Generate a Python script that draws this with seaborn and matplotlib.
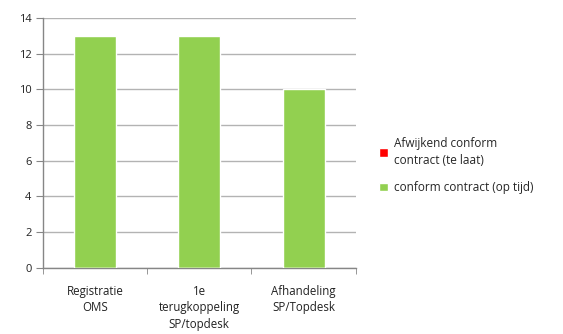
import numpy as np
import pandas as pd
import matplotlib
matplotlib.use("Agg")
import matplotlib.pyplot as plt
import seaborn as sns

categories = ["Registratie\nOMS", "1e\nterugkoppeling\nSP/topdesk", "Afhandeling\nSP/Topdesk"]
op_tijd = [13, 13, 10]
te_laat = [0, 0, 0]
label_laat = "Afwijkend conform\ncontract (te laat)"
label_tijd = "conform contract (op tijd)"

green = "#92d050"
red = "#ff0000"
grid = "#b3b3b3"

sns.set_style("white")
plt.rcParams['font.family'] = ['Open Sans', 'DejaVu Sans']

df = pd.DataFrame({"cat": categories, "tijd": op_tijd, "laat": te_laat})

fig = plt.figure(figsize=(5.63, 3.34), dpi=100)
ax = fig.add_axes([0.076, 0.198, 0.556, 0.748])

# red stacked on top of green (all zero here)
sns.barplot(data=df, x="cat", y="tijd", color=green, width=0.4, saturation=1,
            label=label_tijd, ax=ax, zorder=3)
sns.barplot(data=df, x="cat", y="laat", color=red, width=0.4, saturation=1,
            label=label_laat, ax=ax, zorder=3)

ax.set_ylim(0, 14)
ax.set_yticks(np.arange(0, 15, 2))
ax.set_xlim(-0.5, len(categories) - 0.5)
ax.set_xlabel("")
ax.set_ylabel("")
ax.yaxis.grid(True, color=grid, linewidth=1, zorder=0)
ax.set_axisbelow(True)

for s in ["top", "right"]:
    ax.spines[s].set_visible(False)
for s in ["left", "bottom"]:
    ax.spines[s].set_color("#868686")
    ax.spines[s].set_linewidth(1)

ax.tick_params(axis="y", which="major", length=5, color="#868686", direction="out",
               left=True, labelsize=8, labelcolor="#222222", pad=3)
ax.tick_params(axis="x", which="major", length=0, labelsize=8.3, labelcolor="#222222", pad=12)
for t in ax.get_xticklabels():
    t.set_linespacing(1.35)
ax.set_xticks(np.arange(-0.5, len(categories), 1), minor=True)
ax.tick_params(axis="x", which="minor", length=4, color="#868686", direction="out", bottom=True)

h, l = ax.get_legend_handles_labels()
order = [l.index(label_laat), l.index(label_tijd)]
leg = ax.legend([h[i] for i in order], [l[i] for i in order], loc="center left",
                bbox_to_anchor=(1.04, 0.41), frameon=False, fontsize=8.5,
                handlelength=0.75, handleheight=0.75, handletextpad=0.5, labelspacing=1.2)
for t in leg.get_texts():
    t.set_linespacing(1.4)

fig.savefig("out.png", dpi=100)
